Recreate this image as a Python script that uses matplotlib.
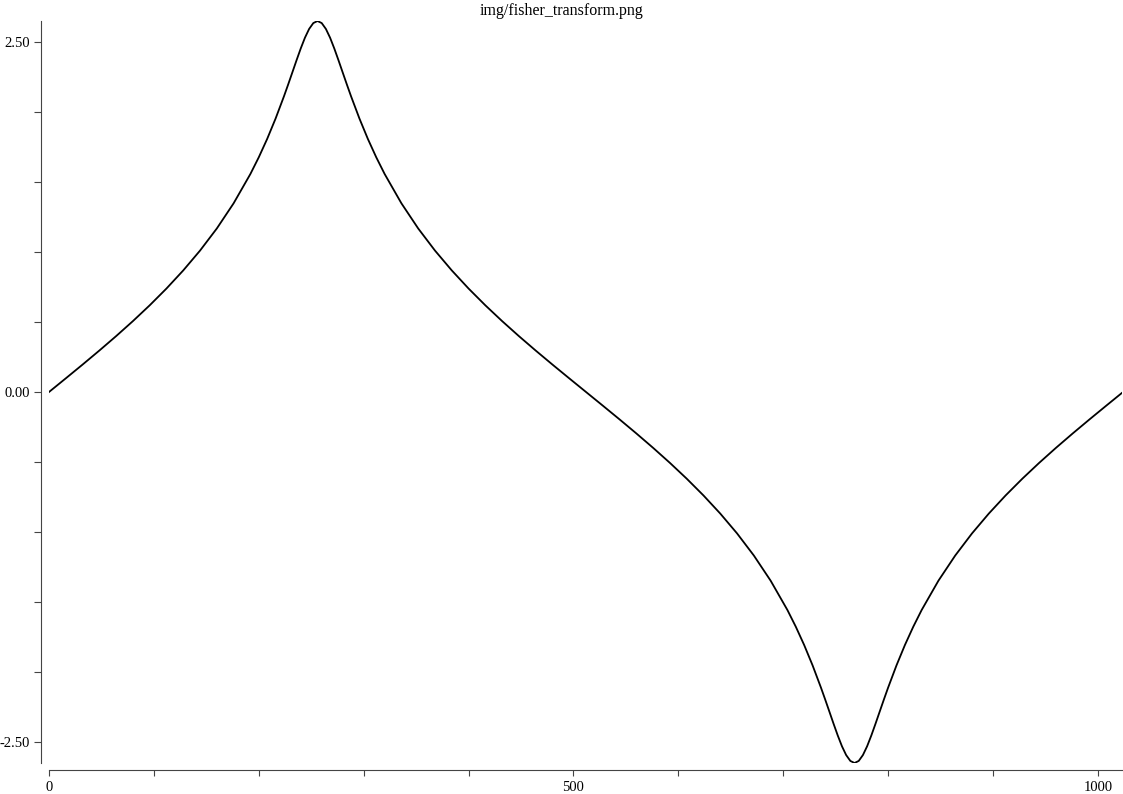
import numpy as np
import matplotlib
matplotlib.use("Agg")
import matplotlib.pyplot as plt

# Fisher transform curve (x sample index, y value)
x_pos = [0, 16, 32, 48, 64, 80, 96, 112, 128, 144, 160, 176, 192, 200, 208, 216,
         224, 228, 232, 236, 240, 244, 248, 252, 256, 260, 264, 268, 272, 276, 280,
         284, 288, 296, 304, 312, 320, 336, 352, 368, 384, 400, 416, 432, 448, 464,
         480, 496, 512, 528, 544, 560, 576, 592, 608, 624, 640, 656, 672, 688, 704,
         712, 720, 728, 736, 740, 744, 748, 752, 756, 760, 764, 768, 772, 776, 780,
         784, 788, 792, 796, 800, 808, 816, 824, 832, 848, 864, 880, 896, 912, 928,
         944, 960, 976, 992, 1008, 1023]
fisher_vals = [0.0000, 0.0974, 0.1956, 0.2957, 0.3987, 0.5058, 0.6184, 0.7382,
               0.8674, 1.0088, 1.1665, 1.3460, 1.5552, 1.6744, 1.8055, 1.9502,
               2.1092, 2.1934, 2.2798, 2.3665, 2.4505, 2.5272, 2.5900, 2.6319,
               2.6467, 2.6319, 2.5900, 2.5272, 2.4505, 2.3665, 2.2798, 2.1934,
               2.1092, 1.9502, 1.8055, 1.6744, 1.5552, 1.3460, 1.1665, 1.0088,
               0.8674, 0.7382, 0.6184, 0.5058, 0.3987, 0.2957, 0.1956, 0.0974,
               0.0000, -0.0974, -0.1956, -0.2957, -0.3987, -0.5058, -0.6184, -0.7382,
               -0.8674, -1.0088, -1.1665, -1.3460, -1.5552, -1.6744, -1.8055, -1.9502,
               -2.1092, -2.1934, -2.2798, -2.3665, -2.4505, -2.5272, -2.5900, -2.6319,
               -2.6467, -2.6319, -2.5900, -2.5272, -2.4505, -2.3665, -2.2798, -2.1934,
               -2.1092, -1.9502, -1.8055, -1.6744, -1.5552, -1.3460, -1.1665, -1.0088,
               -0.8674, -0.7382, -0.6184, -0.5058, -0.3987, -0.2957, -0.1956, -0.0974,
               -0.0061]

y_ticks = [-2.5, -2.0, -1.5, -1.0, -0.5, 0.0, 0.5, 1.0, 1.5, 2.0, 2.5]
y_labels = ["-2.50", "", "", "", "", "0.00", "", "", "", "", "2.50"]
x_ticks = [0, 100, 200, 300, 400, 500, 600, 700, 800, 900, 1000]
x_labels = ["0", "", "", "", "", "500", "", "", "", "", "1000"]

plt.rcParams["font.family"] = ["Liberation Serif", "DejaVu Serif"]

W, H = 1123, 794
fig = plt.figure(figsize=(W / 100, H / 100), dpi=100)
ax = fig.add_axes([49 / W, 1 - 763 / H, (1122 - 49) / W, (763 - 21) / H])

ax.plot(x_pos, fisher_vals, color="black", lw=1.3)
ax.set_xlim(0, 1023)
ax.set_ylim(-2.6467, 2.6467)

for side in ["top", "right"]:
    ax.spines[side].set_visible(False)
ax.spines["left"].set_position(("outward", 5.8))
ax.spines["bottom"].set_position(("outward", 5.0))
for side in ["left", "bottom"]:
    ax.spines[side].set_color("#444444")
    ax.spines[side].set_linewidth(0.8)

ax.set_yticks(y_ticks)
ax.set_yticklabels(y_labels)
ax.set_xticks(x_ticks)
ax.set_xticklabels(x_labels)
ax.tick_params(axis="y", length=5, width=0.8, color="#444444", pad=3, labelsize=10.5)
ax.tick_params(axis="x", length=4, width=0.8, color="#444444", pad=4, labelsize=10.5)

fig.text(0.5, 1 - 11 / H, "img/fisher_transform.png", ha="center", va="center", fontsize=11.5)

fig.savefig("out.png", dpi=100)
